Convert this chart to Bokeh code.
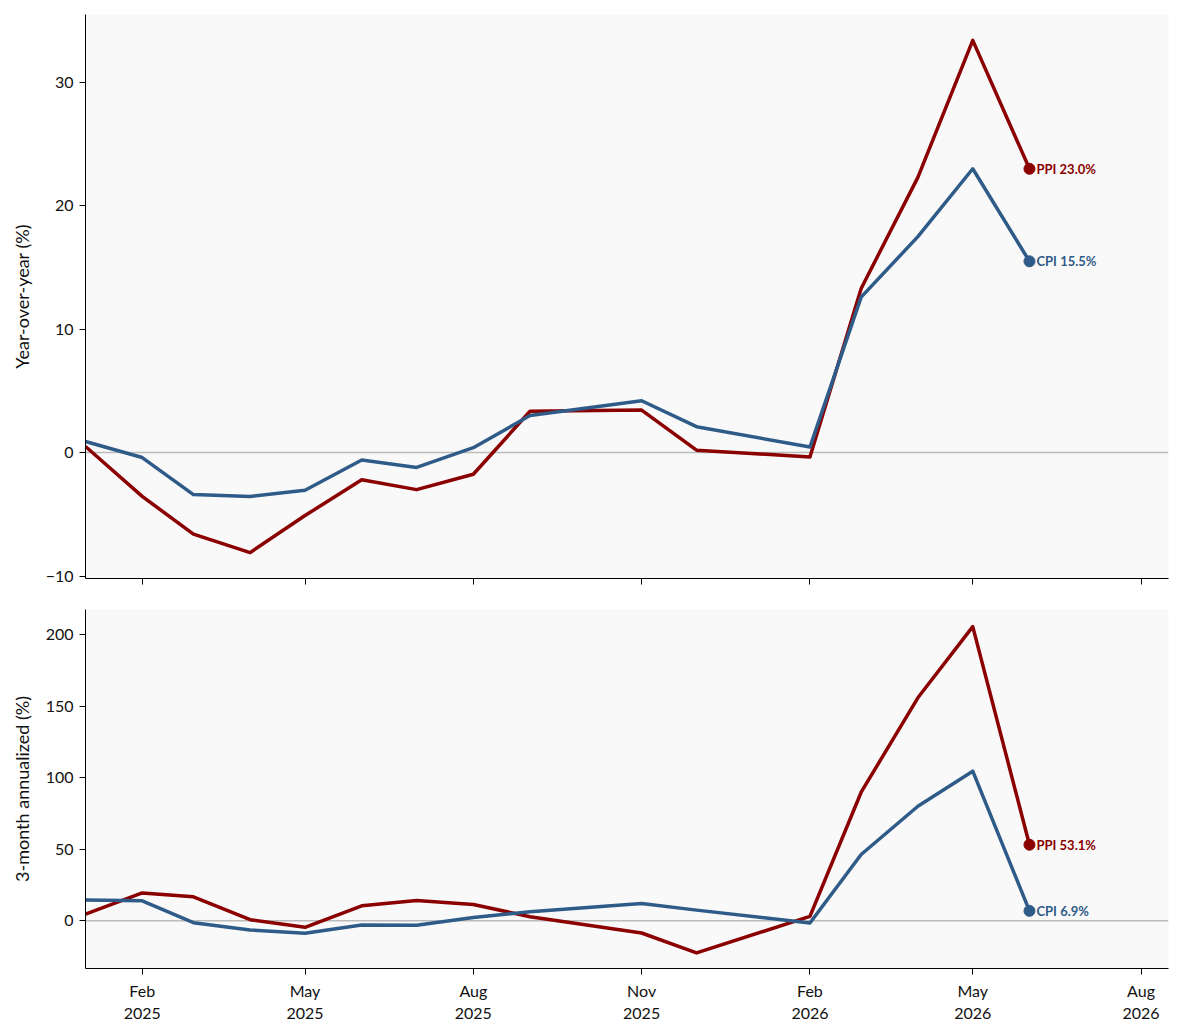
from bokeh.plotting import figure
from bokeh.models import ColumnDataSource, Range1d, FixedTicker, Span
from bokeh.core.properties import value
from bokeh.layouts import column
from bokeh.embed import file_html
from bokeh.resources import INLINE
import pandas as pd

# monthly readings (Oct 2025 and Jan 2026 missing)
months = ["2025-01-01", "2025-02-01", "2025-03-01", "2025-04-01", "2025-05-01",
          "2025-06-01", "2025-07-01", "2025-08-01", "2025-09-01", "2025-11-01",
          "2025-12-01", "2026-02-01", "2026-03-01", "2026-04-01", "2026-05-01",
          "2026-06-01"]

cpi_yoy = [0.9, -0.4, -3.4, -3.55, -3.05, -0.6, -1.2, 0.4, 3.0, 4.2,
           2.1, 0.45, 12.6, 17.5, 23.0, 15.5]
ppi_yoy = [0.5, -3.55, -6.6, -8.1, -5.1, -2.2, -3.0, -1.75, 3.35, 3.45,
           0.2, -0.35, 13.3, 22.3, 33.4, 23.0]

cpi_3m = [14.4, 13.9, -1.4, -6.5, -8.8, -3.0, -3.2, 2.3, 6.3, 12.0,
          7.4, -1.6, 46.3, 80.0, 104.5, 6.9]
ppi_3m = [4.6, 19.4, 16.7, 0.7, -4.6, 10.4, 14.1, 11.3, 2.8, -8.6,
          -22.5, 3.0, 89.8, 155.8, 205.5, 53.1]

tick_dates = ["2025-02-01", "2025-05-01", "2025-08-01", "2025-11-01",
              "2026-02-01", "2026-05-01", "2026-08-01"]
tick_labels = ["Feb\n2025", "May\n2025", "Aug\n2025", "Nov\n2025",
               "Feb\n2026", "May\n2026", "Aug\n2026"]

yoy_ticks = [-10, 0, 10, 20, 30]
ann_ticks = [0, 50, 100, 150, 200]

CPI_COLOR = "#2f5b88"
PPI_COLOR = "#8b0000"
FONT = "Lato"

dates = pd.to_datetime(months)
tick_ms = [int(pd.Timestamp(d).value // 10**6) for d in tick_dates]

src = ColumnDataSource(data=dict(date=dates, cpi_yoy=cpi_yoy, ppi_yoy=ppi_yoy,
                                 cpi_3m=cpi_3m, ppi_3m=ppi_3m))
last = ColumnDataSource(data=dict(
    date=[dates[-1], dates[-1]],
    yoy=[ppi_yoy[-1], cpi_yoy[-1]],
    ann=[ppi_3m[-1], cpi_3m[-1]],
    color=[PPI_COLOR, CPI_COLOR],
    yoy_label=["PPI %.1f%%" % ppi_yoy[-1], "CPI %.1f%%" % cpi_yoy[-1]],
    ann_label=["PPI %.1f%%" % ppi_3m[-1], "CPI %.1f%%" % cpi_3m[-1]],
))

xr = Range1d(start=pd.Timestamp("2025-01-01"), end=pd.Timestamp("2026-08-16"))


def style(p, yticks, ylabel):
    p.background_fill_color = "#f9f9f9"
    p.border_fill_color = "white"
    p.outline_line_color = None
    p.grid.grid_line_color = None
    for ax in p.axis:
        ax.axis_line_color = "black"
        ax.major_tick_line_color = "black"
        ax.major_tick_out = 6
        ax.major_tick_in = 0
        ax.minor_tick_line_color = None
        ax.major_label_text_font = FONT
        ax.major_label_text_font_size = "16px"
        ax.major_label_text_color = "#111111"
        ax.major_label_standoff = 6
    p.yaxis.ticker = FixedTicker(ticks=yticks)
    p.yaxis.major_label_overrides = {t: ("\u2212%d" % -t if t < 0 else str(t)) for t in yticks}
    p.yaxis.axis_label = ylabel
    p.yaxis.axis_label_text_font = FONT
    p.yaxis.axis_label_text_font_size = "18px"
    p.yaxis.axis_label_text_font_style = "normal"
    p.yaxis.axis_label_text_color = "#111111"
    p.yaxis.axis_label_standoff = 10
    p.xaxis.ticker = FixedTicker(ticks=tick_ms)
    p.xaxis.major_label_overrides = dict(zip(tick_ms, tick_labels))
    p.add_layout(Span(location=0, dimension="width", line_color="#bbbbbb",
                      line_width=1.5, level="underlay"))


def draw(p, col_ppi, col_cpi, ycol, lcol):
    p.line("date", col_ppi, source=src, line_color=PPI_COLOR, line_width=3.5,
           line_join="round")
    p.line("date", col_cpi, source=src, line_color=CPI_COLOR, line_width=3.5,
           line_join="round")
    p.scatter("date", ycol, source=last, size=11, color="color")
    p.text("date", ycol, text=lcol, source=last, text_color="color",
           text_font=value(FONT), text_font_size=value("13px"),
           text_font_style="bold", text_baseline="middle", x_offset=7)


p1 = figure(width=1183, height=598, x_axis_type="datetime", x_range=xr,
            y_range=Range1d(-10.2, 35.5), output_backend="svg",
            toolbar_location=None, min_border_left=85, min_border_right=15,
            min_border_top=14, min_border_bottom=20)
style(p1, yoy_ticks, "Year-over-year (%)")
# top panel shares the dates below: ticks only, no labels
p1.xaxis.major_label_overrides = {t: "" for t in tick_ms}
p1.xaxis.major_label_text_font_size = "2px"
p1.xaxis.major_label_standoff = 0
draw(p1, "ppi_yoy", "cpi_yoy", "yoy", "yoy_label")

p2 = figure(width=1183, height=435, x_axis_type="datetime", x_range=xr,
            y_range=Range1d(-33.4, 217.5), output_backend="svg",
            toolbar_location=None, min_border_left=85, min_border_right=15,
            min_border_top=11, min_border_bottom=65)
style(p2, ann_ticks, "3-month annualized (%)")
draw(p2, "ppi_3m", "cpi_3m", "ann", "ann_label")

layout = column(p1, p2, spacing=0)

open("out.html", "w").write(file_html(layout, INLINE))
